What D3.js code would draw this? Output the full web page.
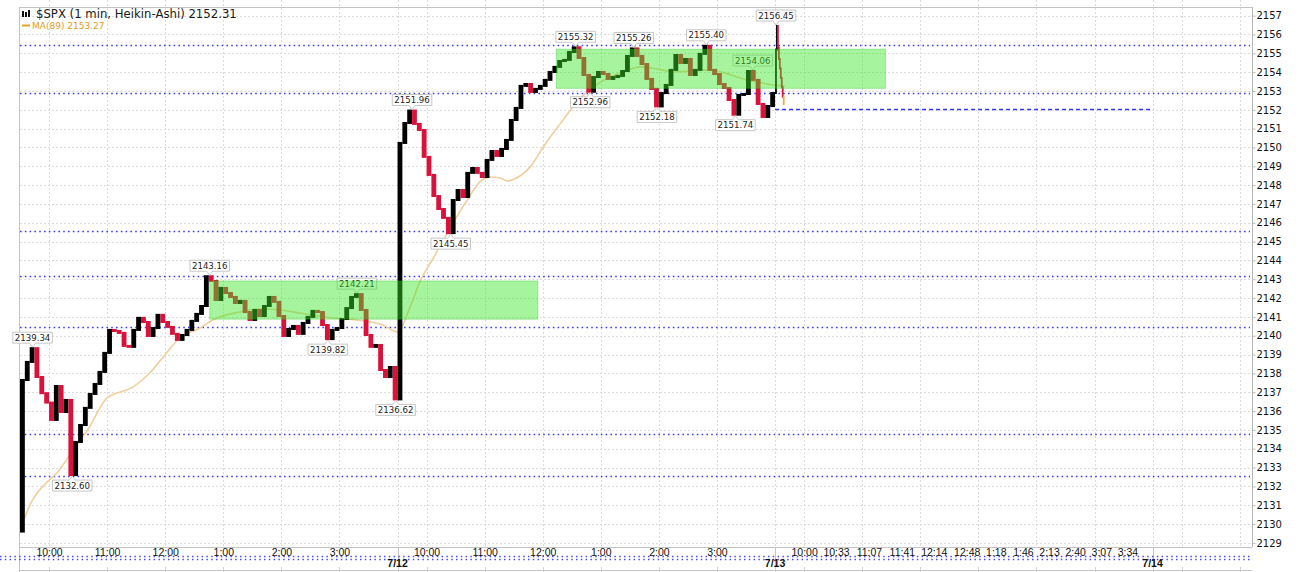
<!DOCTYPE html>
<html><head><meta charset="utf-8">
<script src="https://cdn.jsdelivr.net/npm/d3@7"></script>
<style>html,body{margin:0;padding:0;background:#fff;overflow:hidden}</style>
</head><body><svg id="c" width="1301" height="572"></svg>
<script>
// ---------- data ----------
const firstOpen = 2129.60;
// 7/11, 5-minute closes from 9:30
const day1Close5 = [
 2137.65, 2138.61, 2139.34, 2137.81, 2136.95, 2136.45, 2135.53, 2137.33, 2135.95, 2136.59,
 2132.60, 2134.36, 2135.26, 2136.17, 2136.91, 2137.44, 2138.08, 2139.09, 2140.31, 2140.25,
 2140.15, 2139.46, 2139.41, 2140.31, 2140.95, 2140.73, 2139.99, 2140.41, 2141.11, 2140.73,
 2140.47, 2140.10, 2139.78, 2140.04, 2140.31, 2140.79, 2141.16, 2141.58, 2143.16, 2142.91,
 2141.90, 2142.54, 2142.27, 2142.06, 2141.74, 2141.85, 2141.26, 2140.84, 2141.37, 2141.05,
 2141.58, 2142.06, 2141.80, 2141.05, 2139.99, 2140.36, 2140.52, 2140.10, 2140.68, 2141.00,
 2141.32, 2141.26, 2140.57, 2139.82, 2140.31, 2140.41, 2140.89, 2141.47, 2142.06, 2142.21,
 2141.37, 2140.04, 2139.41, 2139.51, 2138.18, 2137.81, 2138.34, 2136.62];
// 7/12, 5-minute closes from 9:30
const day2Close5 = [
 2150.24, 2151.30, 2151.96, 2151.25, 2150.93, 2149.50, 2148.54, 2147.42, 2146.73, 2146.26,
 2145.45, 2147.21, 2147.74, 2147.37, 2148.65, 2148.91, 2148.65, 2148.43, 2149.34, 2149.81,
 2149.55, 2149.92, 2150.40, 2151.46, 2152.10, 2153.27, 2153.37, 2152.95, 2153.11, 2153.27,
 2153.59, 2154.01, 2154.28, 2154.59, 2154.65, 2155.07, 2155.32, 2154.75, 2153.85, 2152.96,
 2153.74, 2154.01, 2153.90, 2153.64, 2153.74, 2153.80, 2154.06, 2154.86, 2155.26, 2154.86,
 2154.43, 2153.64, 2153.11, 2152.18, 2152.89, 2153.32, 2154.12, 2154.91, 2154.49, 2154.70,
 2153.85, 2154.12, 2154.97, 2155.40, 2154.12, 2153.90, 2153.37, 2153.16, 2152.52, 2151.74,
 2152.79, 2152.84, 2154.06, 2153.59, 2152.31, 2151.62, 2152.20, 2152.89];
// 7/13, 1-minute closes from 9:30
const day3Close1 = [2155.20, 2156.45, 2155.30, 2154.70, 2154.20, 2153.70, 2153.20, 2152.70, 2152.31];

const maMinutes = [0,13,26,38,55,70,90,117,134,148,165,186,199,227,248,269,289,323,348,375,
 390,403,413,427,445,462,475,486,496,503,513,527,544,561,579,592,610,623,641,658,
 675,692,710,728,744,761,778,790];
const maValues = [2129.69,2131.28,2132.13,2132.71,2133.94,2135.00,2136.70,2137.28,2138.02,2138.87,
 2139.88,2140.41,2140.84,2141.26,2141.42,2141.37,2141.21,2140.94,2140.84,2140.57,
 2140.20,2141.53,2142.86,2144.13,2145.78,2147.21,2148.17,2148.43,2148.38,2148.22,
 2148.38,2148.97,2150.29,2151.46,2152.63,2153.21,2153.74,2154.01,2154.28,2154.17,
 2154.01,2154.06,2154.12,2153.96,2153.69,2153.48,2153.32,2153.27];

const levelLines = [2155.44, 2152.87, 2145.58, 2143.18, 2140.45, 2134.77, 2132.57];
const lastPriceLine = 2152.05;
const lastPriceLineFrom = 780, lastPriceLineTo = 1170;

const zoneStartMin = [196, 554];
const zoneEndMin = [535, 894];
const zoneLow = [2140.88, 2153.14];
const zoneHigh = [2142.91, 2155.22];

const labelValues  = [2139.34, 2132.60, 2143.16, 2142.21, 2139.82, 2136.62, 2151.96, 2145.45,
                      2155.32, 2152.96, 2155.26, 2152.18, 2155.40, 2151.74, 2154.06, 2156.45];
const labelMinutes = [13, 54, 196, 348, 318, 388, 405, 445, 574, 589, 634, 658, 709, 739, 757, 781];
const labelKinds   = ["H","L","H","H","L","L","H","L","H","L","H","L","H","L","H","H"];

const hourTickMinutes = [30, 90, 150, 210, 270, 330];
const hourTickLabels = ["10:00","11:00","12:00","1:00","2:00","3:00"];
const day3TickMinutes = [30, 63, 97, 131, 164, 198, 228, 256, 283, 310, 337, 364];
const day3TickLabels = ["10:00","10:33","11:07","11:41","12:14","12:48","1:18","1:46","2:13","2:40","3:07","3:34"];
const dayLabels = ["7/12", "7/13", "7/14"];
const yTicks = d3.range(2129, 2158);

const titleText = "$SPX (1 min, Heikin-Ashi) 2152.31";
const maText = "MA(89) 2153.27";

// ---------- scales ----------
const DAY = 390;
const x = d3.scaleLinear().domain([0, 1273]).range([20, 1252.3]);
const y = d3.scaleLinear().domain([2128.78, 2157.46]).range([547, 7]);
const L = 20, R = 1252, T = 7, B = 547;

const svg = d3.select("#c");
svg.append("rect").attr("width",1301).attr("height",572).attr("fill","#fff");

// ---------- grid ----------
const gridMin = [];
for (let d = 0; d < 3; d++) {
  hourTickMinutes.forEach(m => gridMin.push(d*DAY + m));
  gridMin.push((d+1)*DAY);
}
gridMin.push(3*DAY + 30, 3*DAY + 90);
svg.append("g").selectAll("line").data(yTicks).join("line")
  .attr("x1", L).attr("x2", R).attr("y1", d => Math.round(y(d))+0.5).attr("y2", d => Math.round(y(d))+0.5)
  .attr("stroke", "#dcdcdc").attr("stroke-dasharray", "2,2");
svg.append("g").selectAll("line").data(gridMin).join("line")
  .attr("x1", d => Math.round(x(d))+0.5).attr("x2", d => Math.round(x(d))+0.5)
  .attr("y1", 0).attr("y2", B)
  .attr("stroke", "#dcdcdc").attr("stroke-dasharray", "2,2");

// frame
const fr = svg.append("g").attr("stroke", "#c4c4c4").attr("fill", "none");
fr.append("line").attr("x1", L).attr("x2", R).attr("y1", T+0.5).attr("y2", T+0.5);
fr.append("line").attr("x1", L).attr("x2", R).attr("y1", B+0.5).attr("y2", B+0.5);
fr.append("line").attr("x1", L).attr("x2", R).attr("y1", 570.5).attr("y2", 570.5);
fr.append("line").attr("x1", L-0.5).attr("x2", L-0.5).attr("y1", T).attr("y2", 572);
svg.append("g").selectAll("line").data([DAY, 2*DAY, 3*DAY]).join("line")
  .attr("x1", d => Math.round(x(d))+0.5).attr("x2", d => Math.round(x(d))+0.5)
  .attr("y1", B).attr("y2", 572).attr("stroke", "#c4c4c4");
svg.append("g").selectAll("line").data(gridMin).join("line")
  .attr("x1", d => Math.round(x(d))+0.5).attr("x2", d => Math.round(x(d))+0.5)
  .attr("y1", 567).attr("y2", 572).attr("stroke", "#d0d0d0");

// ---------- level lines ----------
svg.append("g").selectAll("line").data(levelLines).join("line")
  .attr("x1", L).attr("x2", R - 2).attr("y1", d => Math.round(y(d))+0.5).attr("y2", d => Math.round(y(d))+0.5)
  .attr("stroke", "#3a3aff").attr("stroke-width", 1.6).attr("stroke-dasharray", "1.6,3.2");
svg.append("line")
  .attr("x1", x(lastPriceLineFrom)).attr("x2", x(lastPriceLineTo))
  .attr("y1", Math.round(y(lastPriceLine))+0.5).attr("y2", Math.round(y(lastPriceLine))+0.5)
  .attr("stroke", "#3434ff").attr("stroke-width", 1.3).attr("stroke-dasharray", "4,3");
svg.append("g").selectAll("line").data([556, 559]).join("line")
  .attr("x1", 0).attr("x2", 1250).attr("y1", d => d+0.5).attr("y2", d => d+0.5)
  .attr("stroke", "#4a4aff").attr("stroke-width", 1.4).attr("stroke-dasharray", "1.5,3.3");

// ---------- MA ----------
const maPts = maMinutes.map((m, i) => [m, maValues[i]]);
svg.append("path").datum(maPts)
  .attr("d", d3.line().x(d => x(d[0])).y(d => y(d[1])).curve(d3.curveMonotoneX))
  .attr("fill", "none").attr("stroke", "#efcf9d").attr("stroke-width", 1.6);

// ---------- candles ----------
const bars = [];
let prev = firstOpen;
day1Close5.forEach((c, i) => { bars.push({t: 5*i, w: 5, o: prev, c}); prev = c; });
day2Close5.forEach((c, i) => { bars.push({t: DAY + 5*i, w: 5, o: prev, c}); prev = c; });
day3Close1.forEach((c, i) => { bars.push({t: 2*DAY + i, w: 1, o: prev, c}); prev = c; });
svg.append("g").selectAll("rect").data(bars).join("rect")
  .attr("x", d => x(d.t))
  .attr("width", d => Math.max(1.8, x(d.t + d.w) - x(d.t)))
  .attr("y", d => Math.min(y(d.o), y(d.c)) - 1)
  .attr("height", d => Math.max(2, Math.abs(y(d.o) - y(d.c)) + 2))
  .attr("fill", (d, i) => i === bars.length - 1 ? "#f2a93b" : (d.c >= d.o ? "#000" : "#d9123c"));

// ---------- value labels ----------
const lab = svg.append("g").attr("font-family", "DejaVu Sans").attr("font-size", 8.6);
labelValues.forEach((v, i) => {
  const ax = x(labelMinutes[i]), ay = y(v);
  const g = lab.append("g");
  const p = g.append("path").attr("fill", "#fff").attr("stroke", "#c6c6c6");
  const t = g.append("text").attr("fill", "#222").attr("text-anchor", "middle").text(v.toFixed(2));
  const w = t.node().getComputedTextLength() + 4, h = 11;
  const left = ax - w/2, right = ax + w/2;
  let d, top;
  if (labelKinds[i] === "H") {
    const bot = ay - 5; top = bot - h;
    d = `M${left},${top}H${right}V${bot}H${ax+3}L${ax},${ay-1}L${ax-3},${bot}H${left}Z`;
  } else {
    top = ay + 5; const bot = top + h;
    d = `M${left},${top}H${ax-3}L${ax},${ay+1}L${ax+3},${top}H${right}V${bot}H${left}Z`;
  }
  p.attr("d", d);
  t.attr("x", ax).attr("y", top + 8.6);
});

// ---------- zones ----------
svg.append("g").selectAll("rect").data(zoneStartMin).join("rect")
  .attr("x", (d, i) => x(d)).attr("width", (d, i) => x(zoneEndMin[i]) - x(d))
  .attr("y", (d, i) => y(zoneHigh[i])).attr("height", (d, i) => y(zoneLow[i]) - y(zoneHigh[i]))
  .attr("fill", "rgb(60,230,40)").attr("fill-opacity", 0.45)
  .attr("stroke", "rgb(40,200,30)").attr("stroke-opacity", 0.35);

// ---------- axes ----------
const yAxis = svg.append("g").attr("transform", `translate(${R+0.5},0)`)
  .call(d3.axisRight(y).tickValues(yTicks).tickFormat(d3.format("d")).tickSize(3).tickSizeOuter(0).tickPadding(1));
yAxis.select(".domain").attr("stroke", "#b8b8b8").attr("d", `M0,${T}V${B}`);
yAxis.selectAll(".tick line").attr("stroke", "#b8b8b8");
yAxis.selectAll(".tick text").attr("font-family", "DejaVu Sans").attr("font-size", 10).attr("fill", "#111");

const xMin = [], xLab = [];
for (let d = 0; d < 2; d++) hourTickMinutes.forEach((m, i) => { xMin.push(d*DAY + m); xLab.push(hourTickLabels[i]); });
day3TickMinutes.forEach((m, i) => { xMin.push(2*DAY + m); xLab.push(day3TickLabels[i]); });
const xAxis = svg.append("g").attr("transform", `translate(0,${B})`)
  .call(d3.axisBottom(x).tickValues(xMin).tickFormat((d, i) => xLab[i]).tickSize(0).tickPadding(1.5));
xAxis.select(".domain").remove();
xAxis.selectAll(".tick text").attr("font-family", "Liberation Sans").attr("font-size", 10.5).attr("fill", "#111");

svg.append("g").selectAll("text").data(dayLabels).join("text")
  .attr("x", (d, i) => x((i+1)*DAY)).attr("y", 567)
  .attr("text-anchor", "middle").attr("font-family", "Liberation Sans").attr("font-weight", "bold")
  .attr("font-size", 10.5).attr("fill", "#111").text(d => d);

// ---------- legend ----------
const lg = svg.append("g");
lg.append("rect").attr("x", 22).attr("y", 11).attr("width", 2).attr("height", 6).attr("fill", "#111");
lg.append("rect").attr("x", 25).attr("y", 12).attr("width", 2).attr("height", 5).attr("fill", "#111");
lg.append("rect").attr("x", 28).attr("y", 10).attr("width", 2).attr("height", 7).attr("fill", "#111");
lg.append("text").attr("x", 36).attr("y", 17.5).attr("font-family", "DejaVu Sans").attr("font-size", 11.7)
  .attr("fill", "#1a1a1a").text(titleText);
lg.append("line").attr("x1", 22).attr("x2", 30).attr("y1", 25.5).attr("y2", 25.5)
  .attr("stroke", "#e7a22a").attr("stroke-width", 2);
lg.append("text").attr("x", 32).attr("y", 28.5).attr("font-family", "DejaVu Sans").attr("font-size", 9)
  .attr("fill", "#e39b1b").text(maText);
</script></body></html>
